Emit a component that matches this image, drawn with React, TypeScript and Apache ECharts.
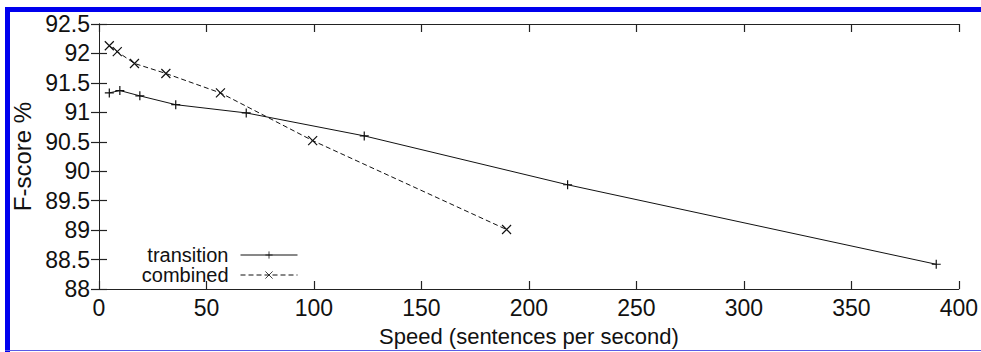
import React, { useEffect, useRef } from "react";
import * as echarts from "echarts";

const transitionX = [4.8, 9.7, 19, 35.7, 68.5, 123.4, 218, 389.5];
const transitionY = [91.33, 91.37, 91.28, 91.13, 90.99, 90.6, 89.77, 88.42];
const combinedX = [4.8, 8.5, 16.5, 31.1, 56.5, 99.4, 189.6];
const combinedY = [92.13, 92.03, 91.83, 91.66, 91.33, 90.52, 89.01];
const seriesNames = ["transition", "combined"];
const xAxisName = "Speed (sentences per second)";
const yAxisName = "F-score %";

const FONT = "'Liberation Sans', Arial, Helvetica, sans-serif";

export default function App() {
  const ref = useRef<HTMLDivElement>(null);
  useEffect(() => {
    if (!ref.current) return;
    const chart = echarts.init(ref.current, null, { renderer: "svg" });
    const axisLine = { show: true, lineStyle: { color: "#222", width: 1 } };
    const tick = { show: true, inside: true, length: 8, lineStyle: { color: "#222", width: 1.2 } };
    const plus = "path://M0,5L10,5M5,0L5,10";
    const cross = "path://M0,0L10,10M10,0L0,10";
    chart.setOption({
      animation: false,
      backgroundColor: "#fff",
      textStyle: { fontFamily: FONT },
      grid: { left: 99, right: 20, top: 24, bottom: 58, containLabel: false },
      legend: {
        orient: "vertical",
        right: 683,
        top: 245,
        padding: 0,
        align: "right",
        itemWidth: 57,
        itemHeight: 9,
        itemGap: 0,
        lineStyle: { width: 1 },
        itemStyle: { borderWidth: 0.8 },
        textStyle: { fontFamily: FONT, fontSize: 20, color: "#111", lineHeight: 20, padding: [0, 7, 0, 0] },
        data: seriesNames,
      },
      xAxis: [
        {
          type: "value",
          min: 0,
          max: 400,
          interval: 50,
          position: "bottom",
          name: xAxisName,
          nameLocation: "middle",
          nameGap: 36,
          nameTextStyle: { fontFamily: FONT, fontSize: 22, color: "#111" },
          axisLine,
          axisTick: tick,
          splitLine: { show: false },
          axisLabel: { fontFamily: FONT, fontSize: 23, color: "#111", margin: 7 },
        },
        {
          type: "value",
          min: 0,
          max: 400,
          interval: 50,
          position: "top",
          axisLine,
          axisTick: tick,
          splitLine: { show: false },
          axisLabel: { show: false },
        },
      ],
      yAxis: [
        {
          type: "value",
          min: 88,
          max: 92.5,
          interval: 0.5,
          position: "left",
          name: yAxisName,
          nameLocation: "middle",
          nameGap: 64,
          nameTextStyle: { fontFamily: FONT, fontSize: 24, color: "#111" },
          axisLine,
          axisTick: tick,
          splitLine: { show: false },
          axisLabel: { fontFamily: FONT, fontSize: 23, color: "#111", margin: 9 },
        },
        {
          type: "value",
          min: 88,
          max: 92.5,
          interval: 0.5,
          position: "right",
          axisLine,
          axisTick: tick,
          splitLine: { show: false },
          axisLabel: { show: false },
        },
      ],
      series: [
        {
          name: seriesNames[0],
          type: "line",
          data: transitionX.map((x, i) => [x, transitionY[i]]),
          symbol: plus,
          symbolSize: 9,
          showAllSymbol: true,
          lineStyle: { color: "#111", width: 1, type: "solid" },
          itemStyle: { color: "#111", borderColor: "#111", borderWidth: 1.2 },
          emphasis: { disabled: true },
        },
        {
          name: seriesNames[1],
          type: "line",
          data: combinedX.map((x, i) => [x, combinedY[i]]),
          symbol: cross,
          symbolSize: 9,
          showAllSymbol: true,
          lineStyle: { color: "#111", width: 1, type: [5, 3] },
          itemStyle: { color: "#111", borderColor: "#111", borderWidth: 1.2 },
          emphasis: { disabled: true },
        },
      ],
      graphic: [
        { type: "rect", shape: { x: 5, y: 7, width: 976, height: 5 }, style: { fill: "#0000ee" } },
        { type: "rect", shape: { x: 5, y: 7, width: 5, height: 345 }, style: { fill: "#0000ee" } },
        { type: "rect", shape: { x: 5, y: 350, width: 976, height: 1 }, style: { fill: "#5a5ae6" } },
      ],
    });
    return () => chart.dispose();
  }, []);
  return (
    <div
      ref={ref}
      style={{ position: "absolute", left: 0, top: 0, width: 981, height: 352 }}
    />
  );
}
